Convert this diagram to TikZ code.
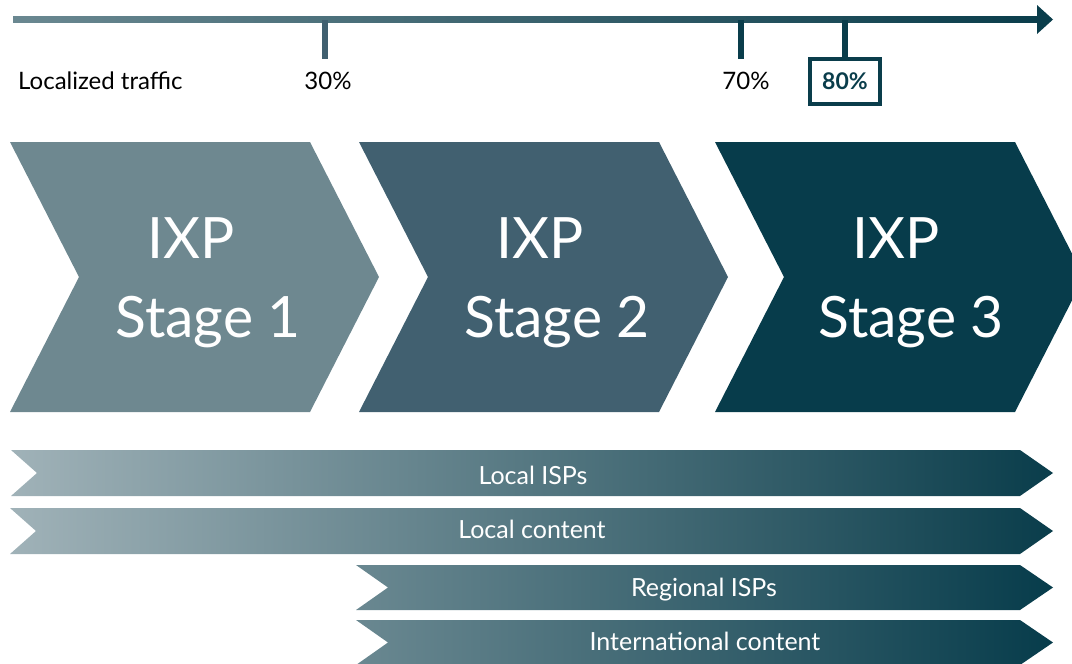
\documentclass[tikz,border=0pt]{standalone}
\usepackage{fontspec}
\setmainfont{Lato}
\usetikzlibrary{positioning}
\definecolor{stageone}{HTML}{6E8890}
\definecolor{stagetwo}{HTML}{416070}
\definecolor{stagethree}{HTML}{073C4B}
\definecolor{barlight}{HTML}{A0B2B8}
\definecolor{barmid}{HTML}{6A8891}
\definecolor{bardark}{HTML}{0A3D4B}

\begin{document}
\begin{tikzpicture}[x = 1pt, y = -1pt,
		stagetext/.style = {text = white, anchor = base, inner sep = 0pt, font = \fontsize{57}{63}\selectfont},
		bartext/.style = {text = white, anchor = base, inner sep = 0pt, font = \fontsize{25}{29}\selectfont},
		ticklabel/.style = {anchor = base, inner sep = 0pt, font = \fontsize{24}{28}\selectfont},
		tickline/.style = {line width = 6pt}]
		\useasboundingbox (0, 0) rectangle (1072, 664);

		% axis
		\shade [left color = barmid, right color = bardark] (13, 16.5) rectangle (1040, 22.5);
		\fill [bardark] (1037, 5) -- (1053, 19.5) -- (1037, 34) -- cycle;
		\coordinate (t30) at (325, 19.5);
		\coordinate (t70) at (741, 19.5);
		\coordinate (t80) at (845, 19.5);

		\node [ticklabel, anchor = base west] (traffic) at (18, 89) {Localized traffic};
		\node [ticklabel] (lab30) at (328, 89) {30\%};
		\node [ticklabel] (lab70) at (746, 89) {70\%};
		\node [draw = bardark, line width = 4pt, minimum width = 70pt, minimum height = 45pt, text = bardark, font = \fontsize{23}{27}\selectfont\bfseries] (lab80) at (845, 81) {80\%};

		\draw [tickline, color = stagetwo] (t30) -- ++(0, 39) coordinate (t30end);
		\draw [tickline, color = bardark] (t70) -- ++(0, 39) coordinate (t70end);
		\draw [tickline, color = bardark] (t80) -- (lab80.north);

		% stages
		\fill [stageone] (10, 142) -- (310, 142) -- (379, 277) -- (310, 412) -- (10, 412) -- (79, 277) -- cycle;
		\fill [stagetwo] (359, 142) -- (659, 142) -- (728, 277) -- (659, 412) -- (359, 412) -- (428, 277) -- cycle;
		\fill [stagethree] (715, 142) -- (1015, 142) -- (1084, 277) -- (1015, 412) -- (715, 412) -- (784, 277) -- cycle;

		\node [stagetext] (ixp1) at (191, 258) {IXP};
		\node [stagetext] (stage1) at (208, 337) {Stage 1};
		\node [stagetext] (ixp2) at (540, 258) {IXP};
		\node [stagetext] (stage2) at (557, 337) {Stage 2};
		\node [stagetext] (ixp3) at (896, 258) {IXP};
		\node [stagetext] (stage3) at (911, 337) {Stage 3};

		% players
		\shade [left color = barlight, middle color = {rgb,255:red,85;green,116;blue,128}, right color = bardark] (11, 450) -- (1020, 450) -- (1053, 473) -- (1020, 496) -- (11, 496) -- (37, 473) -- cycle;
		\shade [left color = barlight, middle color = {rgb,255:red,85;green,116;blue,128}, right color = bardark] (10, 508) -- (1020, 508) -- (1053, 531) -- (1020, 554) -- (10, 554) -- (36, 531) -- cycle;
		\shade [left color = barmid, middle color = {rgb,255:red,33;green,76;blue,90}, right color = stagethree] (356, 565) -- (1020, 565) -- (1053, 587.5) -- (1020, 610) -- (356, 610) -- (388, 587.5) -- cycle;
		\shade [left color = barmid, middle color = {rgb,255:red,33;green,76;blue,90}, right color = stagethree] (356, 620) -- (1020, 620) -- (1053, 642.5) -- (1020, 665) -- (356, 665) -- (388, 642.5) -- cycle;

		\node [bartext] (localisp) at (533, 484) {Local ISPs};
		\node [bartext] (localcontent) at (532, 538) {Local content};
		\node [bartext] (regionalisp) at (704, 596) {Regional ISPs};
		\node [bartext] (intcontent) at (705, 650) {International content};
	\end{tikzpicture}
\end{document}
